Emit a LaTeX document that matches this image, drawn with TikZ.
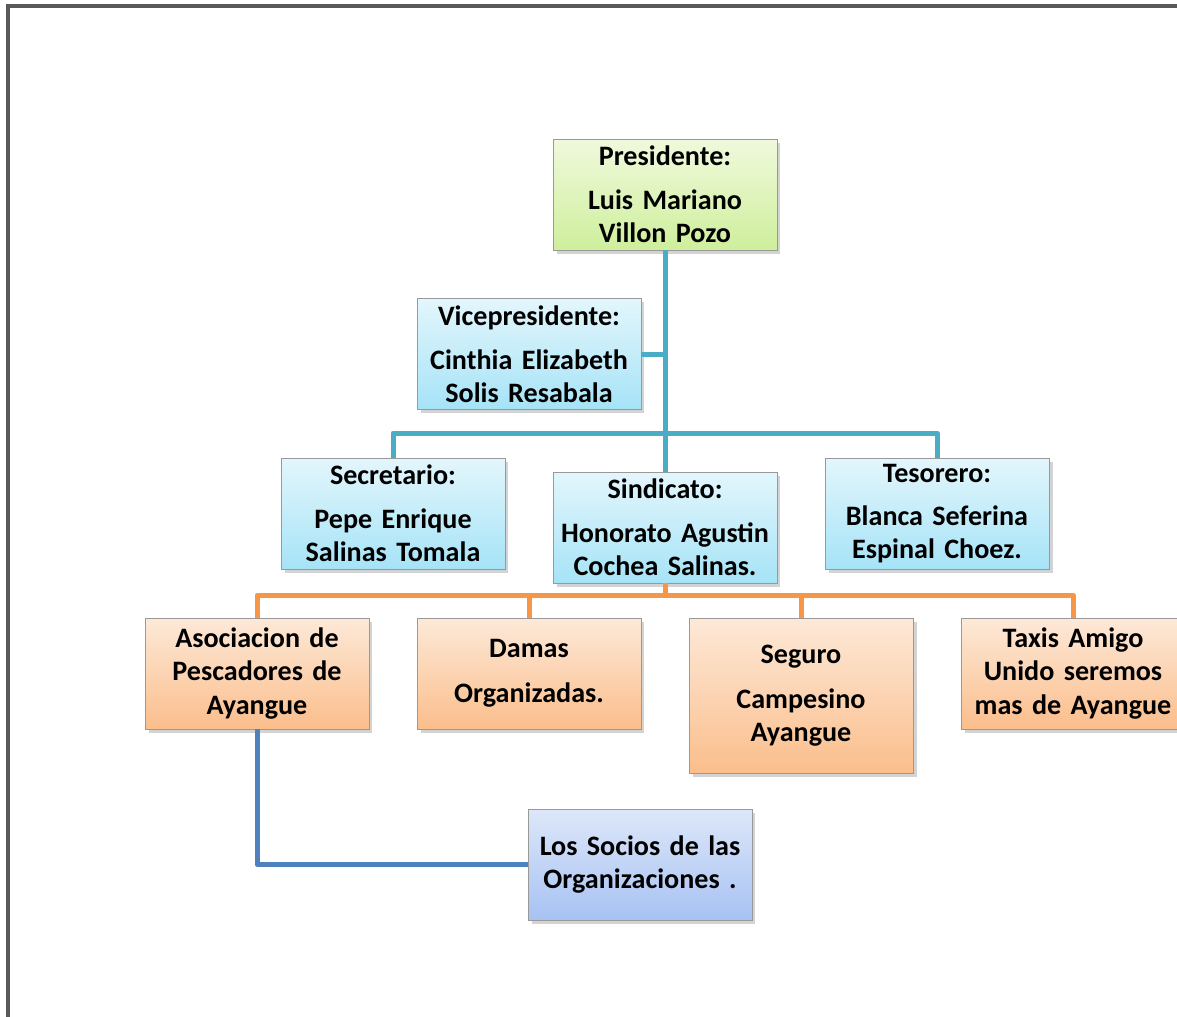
\documentclass[tikz,border=0pt]{standalone}
\usepackage{fontspec}
\setmainfont{Carlito}
\usepackage{tikz}
\usetikzlibrary{shadows}

\definecolor{lineaTeal}{HTML}{4BACC6}
\definecolor{lineaNaranja}{HTML}{F79646}
\definecolor{lineaAzul}{HTML}{4F81BD}

\begin{document}
\begin{tikzpicture}[x=0.02cm,y=-0.02cm,
		caja/.style={draw=gray!80,line width=0.5pt,minimum width=4.48cm,minimum height=2.22cm,
			text width=4.3cm,inner xsep=0.09cm,align=center,
			font=\fontsize{16}{18.8}\selectfont\bfseries,
			drop shadow={shadow xshift=2pt,shadow yshift=-2pt,opacity=0.35}},
		verde/.style={caja,top color={rgb,255:red,240;green,249;blue,220},bottom color={rgb,255:red,206;green,239;blue,156}},
		celeste/.style={caja,top color={rgb,255:red,227;green,246;blue,252},bottom color={rgb,255:red,166;green,227;blue,247}},
		naranja/.style={caja,top color={rgb,255:red,253;green,233;blue,216},bottom color={rgb,255:red,251;green,190;blue,140}},
		lila/.style={caja,top color={rgb,255:red,221;green,231;blue,249},bottom color={rgb,255:red,167;green,194;blue,243}},
		conector/.style={line width=0.1cm,line join=round}]
				\useasboundingbox (0,0) rectangle (1177,1017);
				% marco
				\draw[line width=0.065cm,gray!70!black] (8,1017) -- (8,6) -- (1177,6);
				% cajas
				\node[verde] (pres) at (665,194.5) {Presidente:\\[6pt]Luis Mariano\\Villon Pozo};
				\node[celeste] (vice) at (529,354) {Vicepresidente:\\[6pt]Cinthia Elizabeth\\Solis Resabala};
				\node[celeste] (secr) at (393,513.5) {Secretario:\\[6pt]Pepe Enrique\\Salinas Tomala};
				\node[celeste] (sind) at (665,527.5) {Sindicato:\\[6pt]Honorato Agustin\\Cochea Salinas.};
				\node[celeste] (teso) at (937,513.5) {Tesorero:\\[6pt]Blanca Seferina\\Espinal Choez.};
				\node[naranja] (asoc) at (257,673.5) {Asociacion de\\Pescadores de\\Ayangue};
				\node[naranja] (dama) at (529,673.5) {Damas\\[7pt]Organizadas.};
				\node[naranja,minimum height=3.1cm] (segu) at (801,695.5) {Seguro\\[7pt]Campesino\\Ayangue};
				\node[naranja] (taxi) at (1073,673.5) {Taxis Amigo\\Unido seremos\\mas de Ayangue};
				\node[lila] (soci) at (640,864.5) {Los Socios de las\\Organizaciones .};
				\coordinate (tbus) at (665,433);
				\coordinate (obus) at (665,595);
				% lineas
				\draw[conector,lineaTeal] (pres) -- (sind);
				\draw[conector,lineaTeal] (vice.east) -- (vice.east -| pres.south);
				\draw[conector,lineaTeal] (secr.north) |- (tbus) -| (teso.north);
				\draw[conector,lineaNaranja] (sind.south) -- (obus);
				\draw[conector,lineaNaranja] (asoc.north) |- (obus) -| (taxi.north);
				\draw[conector,lineaNaranja] (dama.north) -- (dama.north |- obus);
				\draw[conector,lineaNaranja] (segu.north) -- (segu.north |- obus);
				\draw[conector,lineaAzul] (asoc.south) |- (soci.west);
			\end{tikzpicture}
\end{document}
